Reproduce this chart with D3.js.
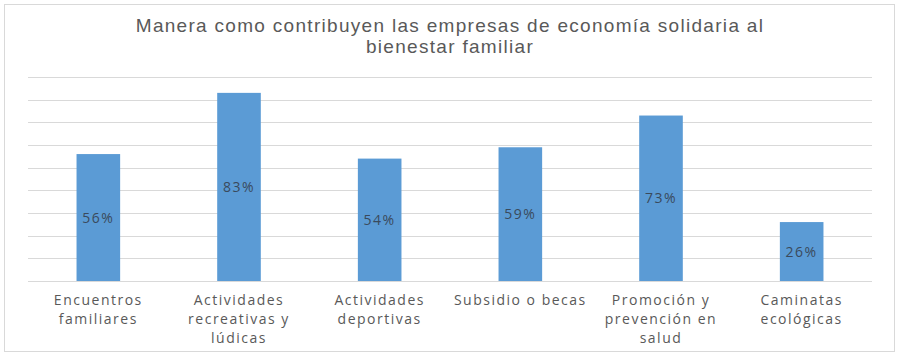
<!DOCTYPE html>
<html>
<head>
<meta charset="utf-8">
<script src="https://cdn.jsdelivr.net/npm/d3@7"></script>
<style>
  body { margin: 0; background: #fff; }
  svg { display: block; }
</style>
</head>
<body>
<div id="chart"></div>
<script>
const titleLines = ['Manera como contribuyen las empresas de economía solidaria al', 'bienestar familiar'];
const categories = [
  ['Encuentros', 'familiares'],
  ['Actividades', 'recreativas y', 'lúdicas'],
  ['Actividades', 'deportivas'],
  ['Subsidio o becas'],
  ['Promoción y', 'prevención en', 'salud'],
  ['Caminatas', 'ecológicas']
];
const values = [56, 83, 54, 59, 73, 26];
const yTicks = [0, 10, 20, 30, 40, 50, 60, 70, 80, 90];

const W = 899, H = 356;
const margin = { top: 77, right: 27, bottom: 75, left: 28 };
const w = W - margin.left - margin.right;
const h = H - margin.top - margin.bottom;

const svg = d3.select('#chart').append('svg')
  .attr('width', W).attr('height', H);

// chart border
svg.append('rect')
  .attr('x', 4.5).attr('y', 4.5)
  .attr('width', 890).attr('height', 347)
  .attr('fill', '#fff').attr('stroke', '#d9d9d9');

// title
svg.append('text')
  .attr('x', 450).attr('y', 32)
  .attr('text-anchor', 'middle')
  .attr('fill', '#595959')
  .attr('font-family', "'Liberation Sans', Arial, sans-serif")
  .attr('font-size', '19px')
  .attr('letter-spacing', '1.3px')
  .selectAll('tspan')
  .data(titleLines)
  .enter().append('tspan')
  .attr('x', 450)
  .attr('dy', (d, i) => i === 0 ? 0 : 21)
  .text(d => d);

const g = svg.append('g').attr('transform', `translate(${margin.left},${margin.top})`);

const x = d3.scaleBand().domain(d3.range(categories.length)).range([0, w]).paddingInner(0.69).paddingOuter(0.345);
const y = d3.scaleLinear().domain([0, 90]).range([h, 0]);

// grid lines
g.append('g')
  .selectAll('line')
  .data(yTicks)
  .enter().append('line')
  .attr('x1', 0).attr('x2', w)
  .attr('y1', d => Math.round(y(d)) + 0.5).attr('y2', d => Math.round(y(d)) + 0.5)
  .attr('stroke', '#d9d9d9').attr('stroke-width', 1);

// bars
g.append('g')
  .selectAll('rect')
  .data(values)
  .enter().append('rect')
  .attr('x', (d, i) => x(i))
  .attr('y', d => y(d))
  .attr('width', x.bandwidth())
  .attr('height', d => h - y(d))
  .attr('fill', '#5b9bd5');

// value labels
g.append('g')
  .selectAll('text')
  .data(values)
  .enter().append('text')
  .attr('x', (d, i) => x(i) + x.bandwidth() / 2)
  .attr('y', d => (y(d) + h) / 2 + 5)
  .attr('text-anchor', 'middle')
  .attr('fill', '#3a4a5c')
  .attr('font-family', "'Open Sans', sans-serif")
  .attr('font-size', '14px')
  .attr('letter-spacing', '1.5px')
  .text(d => `${d}%`);

// category labels
const xAxis = g.append('g').attr('transform', `translate(0,${h})`);
categories.forEach((lines, i) => {
  xAxis.append('text')
    .attr('x', x(i) + x.bandwidth() / 2)
    .attr('y', 24)
    .attr('text-anchor', 'middle')
    .attr('fill', '#595959')
    .attr('font-family', "'Open Sans', sans-serif")
    .attr('font-size', '14px')
    .attr('letter-spacing', '1.5px')
    .selectAll('tspan')
    .data(lines)
    .enter().append('tspan')
    .attr('x', x(i) + x.bandwidth() / 2)
    .attr('dy', (d, j) => j === 0 ? 0 : 19)
    .text(d => d);
});
</script>
</body>
</html>
